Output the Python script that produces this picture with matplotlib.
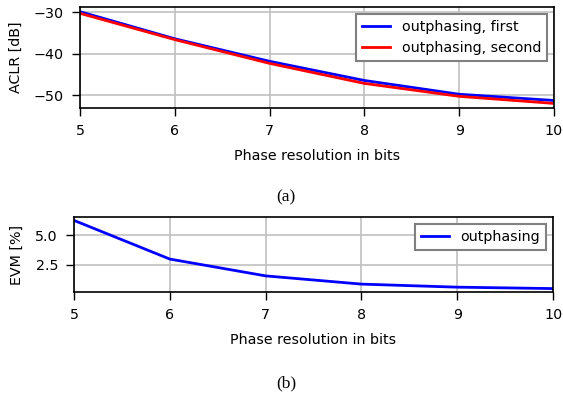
import matplotlib
matplotlib.use("Agg")
import matplotlib.pyplot as plt

plt.rcParams["font.size"] = 10.3

bits = [5, 6, 7, 8, 9, 10]
aclr_first = [-29.9, -36.4, -41.8, -46.4, -49.7, -51.2]
aclr_second = [-30.3, -36.6, -42.3, -47.1, -50.2, -51.9]
evm = [6.28, 2.99, 1.56, 0.86, 0.60, 0.48]

fig = plt.figure(figsize=(5.63, 3.99), dpi=100)

ax1 = fig.add_axes([0.142, 0.7293, 0.842, 0.253])
ax1.plot(bits, aclr_first, color="blue", lw=2, label="outphasing, first")
ax1.plot(bits, aclr_second, color="red", lw=2, label="outphasing, second")
ax1.set_xlim(5, 10)
ax1.set_ylabel("ACLR [dB]", labelpad=8)
ax1.set_xlabel("Phase resolution in bits", labelpad=8)
ax1.grid(True, color="#c0c0c0", lw=1.2)
leg1 = ax1.legend(loc="upper right", fancybox=False, edgecolor="gray", framealpha=1)
leg1.get_frame().set_linewidth(1.5)

ax2 = fig.add_axes([0.1314, 0.2682, 0.851, 0.188])
ax2.plot(bits, evm, color="blue", lw=2, label="outphasing")
ax2.set_xlim(5, 10)
ax2.set_yticks([2.5, 5.0])
ax2.set_ylabel("EVM [%]", labelpad=8)
ax2.set_xlabel("Phase resolution in bits", labelpad=8)
ax2.grid(True, color="#c0c0c0", lw=1.2)
leg2 = ax2.legend(loc="upper right", fancybox=False, edgecolor="gray", framealpha=1)
leg2.get_frame().set_linewidth(1.5)

for ax in (ax1, ax2):
    for s in ax.spines.values():
        s.set_linewidth(1.2)
    ax.tick_params(length=6, width=1, pad=5.5)

fig.text(0.508, 1 - 197 / 399, "(a)", ha="center", va="center",
         family="Liberation Serif", fontsize=12.5)
fig.text(0.508, 1 - 383 / 399, "(b)", ha="center", va="center",
         family="Liberation Serif", fontsize=12.5)

fig.savefig("out.png", dpi=100)
